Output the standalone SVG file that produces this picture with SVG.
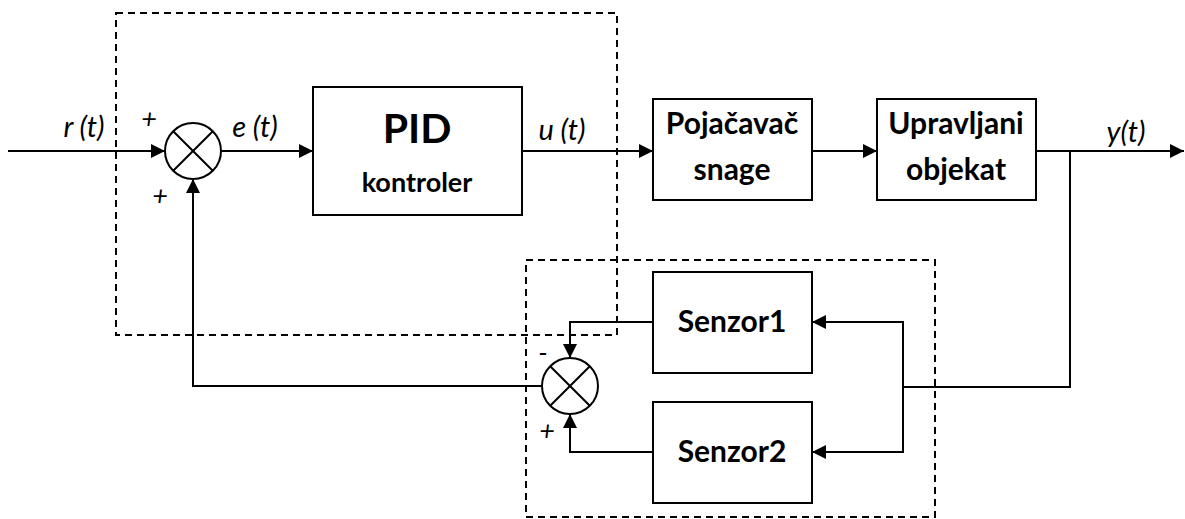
<svg xmlns="http://www.w3.org/2000/svg" width="1185" height="519" viewBox="0 0 1185 519">
<style>
.box{fill:#fff;stroke:#000;stroke-width:2}
.dash{fill:none;stroke:#000;stroke-width:2;stroke-dasharray:7 5}
.ln{fill:none;stroke:#000;stroke-width:2}
.sum{fill:#fff;stroke:#000;stroke-width:2}
.bt{font-family:Lato,"Open Sans",sans-serif;font-weight:bold;font-size:30px;text-anchor:middle;fill:#000}
.it{font-family:Lato,"Open Sans",sans-serif;font-style:italic;font-size:29px;text-anchor:middle;fill:#000}
.sg{font-family:Lato,"Open Sans",sans-serif;font-style:italic;font-size:27px;text-anchor:middle;fill:#000}
</style>
<defs>
<marker id="arr" viewBox="0 0 14 14" refX="14" refY="7" markerWidth="14" markerHeight="14" markerUnits="userSpaceOnUse" orient="auto">
<path d="M0,0 L14,7 L0,14 z" fill="#000"/>
</marker>
</defs>
<g id="groups">
<rect class="dash" x="116" y="13" width="501" height="322"/>
<rect class="dash" x="526" y="260" width="409" height="257"/>
</g>
<g id="connectors">
<path class="ln" d="M8,151 H165" marker-end="url(#arr)"/>
<path class="ln" d="M221,151 H313" marker-end="url(#arr)"/>
<path class="ln" d="M522,151 H653" marker-end="url(#arr)"/>
<path class="ln" d="M812,151 H877" marker-end="url(#arr)"/>
<path class="ln" d="M1036,151 H1184" marker-end="url(#arr)"/>
<path class="ln" d="M1070,151 V387 H903"/>
<path class="ln" d="M903,387 V322 H812" marker-end="url(#arr)"/>
<path class="ln" d="M903,387 V452 H812" marker-end="url(#arr)"/>
<path class="ln" d="M653,322 H570 V358" marker-end="url(#arr)"/>
<path class="ln" d="M653,452 H570 V414" marker-end="url(#arr)"/>
<path class="ln" d="M542,386 H193 V179" marker-end="url(#arr)"/>
</g>
<g id="sum1">
<circle class="sum" cx="193" cy="151" r="28"/>
<path class="ln" d="M173.2,131.2 L212.8,170.8 M212.8,131.2 L173.2,170.8"/>
</g>
<g id="sum2">
<circle class="sum" cx="570" cy="386" r="28"/>
<path class="ln" d="M550.2,366.2 L589.8,405.8 M589.8,366.2 L550.2,405.8"/>
</g>
<g id="pid">
<rect class="box" x="313" y="87" width="209" height="128"/>
<text class="bt" x="417" y="143" style="font-size:41px">PID</text>
<text class="bt" x="417" y="192" style="font-size:27px">kontroler</text>
</g>
<g id="pojacavac">
<rect class="box" x="653" y="99" width="159" height="101"/>
<text class="bt" x="732" y="134">Pojačavač</text>
<text class="bt" x="732" y="180">snage</text>
</g>
<g id="objekat">
<rect class="box" x="877" y="99" width="159" height="101"/>
<text class="bt" x="956" y="134">Upravljani</text>
<text class="bt" x="956" y="180">objekat</text>
</g>
<g id="senzor1">
<rect class="box" x="653" y="272" width="159" height="101"/>
<text class="bt" x="732" y="332">Senzor1</text>
</g>
<g id="senzor2">
<rect class="box" x="653" y="402" width="159" height="101"/>
<text class="bt" x="732" y="462">Senzor2</text>
</g>
<g id="labels">
<text class="it" x="84" y="137">r (t)</text>
<text class="it" x="255" y="137">e (t)</text>
<text class="it" x="562" y="140">u (t)</text>
<text class="it" x="1126" y="142">y(t)</text>
<text class="sg" x="149" y="128">+</text>
<text class="sg" x="160" y="205">+</text>
<text class="sg" x="543" y="362">-</text>
<text class="sg" x="547" y="440">+</text>
</g>
</svg>
